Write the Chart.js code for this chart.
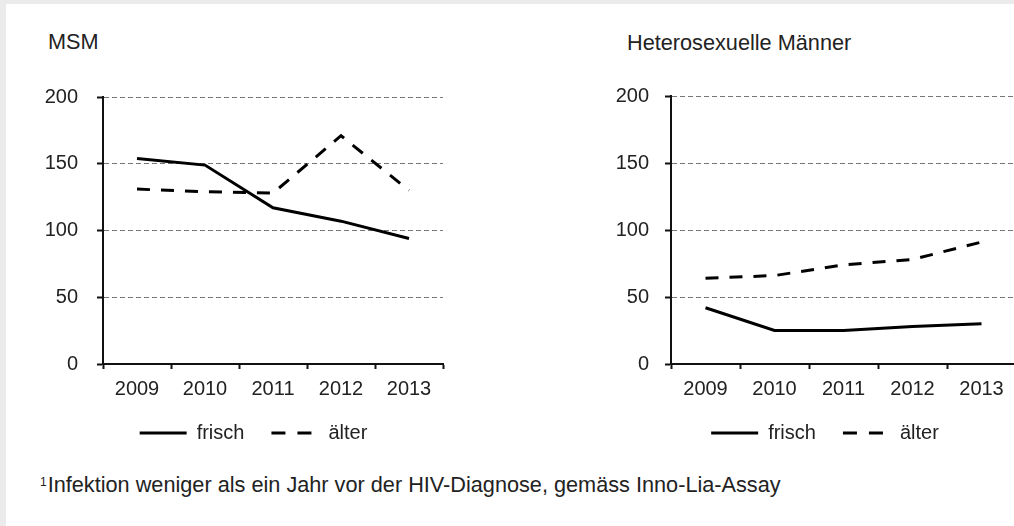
<!DOCTYPE html>
<html>
<head>
<meta charset="utf-8">
<script src="https://cdn.jsdelivr.net/npm/chart.js@4.4.1/dist/chart.umd.min.js"></script>
<style>
html,body{margin:0;padding:0;background:#fff;width:1014px;height:526px;overflow:hidden;font-family:"Liberation Sans",Arial,sans-serif;color:#222}
.strip-top{position:absolute;left:0;top:0;width:1014px;height:4px;background:#ebebeb}
.strip-left{position:absolute;left:0;top:0;width:6px;height:526px;background:#ebebeb}
.title{position:absolute;font-size:21.7px;line-height:21.7px;white-space:nowrap;color:#222}
.note{position:absolute;left:40px;top:474px;font-size:21.7px;line-height:21.7px;white-space:nowrap;color:#222}
.note sup{font-size:12px;position:relative;top:-6px;vertical-align:baseline;margin-right:1px}
#c1{position:absolute;left:0;top:0}
#c2{position:absolute;left:560px;top:0}
</style>
</head>
<body>
<div class="strip-top"></div>
<div class="strip-left"></div>
<div class="title" style="left:48px;top:31px">MSM</div>
<div class="title" style="left:627px;top:32px">Heterosexuelle Männer</div>
<canvas id="c1" width="465" height="460"></canvas>
<canvas id="c2" width="477" height="460"></canvas>
<div class="note"><sup>1</sup>Infektion weniger als ein Jahr vor der HIV-Diagnose, gemäss Inno-Lia-Assay</div>
<script>
// ---- data ----
const years = ['2009', '2010', '2011', '2012', '2013'];
const seriesLabels = ['frisch', 'älter'];
const msmFrisch = [154, 149, 117, 107, 94];
const msmAelter = [131, 129, 128, 171, 130];
const hetFrisch = [42, 25, 25, 28, 30];
const hetAelter = [64, 66, 74, 78, 91];
const yTicks = [0, 50, 100, 150, 200];

const FONT = '"Liberation Sans", Arial, sans-serif';
const TXT = '#222';
const AX = '#111';

function makeChart(id, frisch, aelter, pad, yLabelPad, yWidth, rightSpace) {
  const ctx = document.getElementById(id).getContext('2d');
  return new Chart(ctx, {
    type: 'line',
    data: {
      labels: years,
      datasets: [
        { label: seriesLabels[0], data: frisch, borderColor: '#000', backgroundColor: '#000',
          borderWidth: 3, tension: 0, pointRadius: 0, borderJoinStyle: 'miter', fill: false, yAxisID: 'y' },
        { label: seriesLabels[1], data: aelter, borderColor: '#000', backgroundColor: '#000',
          borderWidth: 3, borderDash: [13, 11], tension: 0, pointRadius: 0, borderJoinStyle: 'miter', fill: false, yAxisID: 'y' }
      ]
    },
    options: {
      responsive: false,
      devicePixelRatio: 1,
      animation: false,
      events: [],
      layout: { padding: pad },
      plugins: {
        tooltip: { enabled: false },
        title: { display: false },
        legend: {
          display: true,
          position: 'bottom',
          align: 'center',
          labels: {
            font: { size: 20, family: FONT },
            color: TXT,
            usePointStyle: true,
            pointStyleWidth: 47,
            boxHeight: 20,
            padding: 27,
            generateLabels: (chart) => chart.data.datasets.map((ds, i) => ({
              text: ds.label,
              fillStyle: '#000',
              strokeStyle: '#000',
              lineWidth: 3,
              lineDash: ds.borderDash ? [14, 12] : [],
              lineCap: 'butt',
              pointStyle: 'line',
              hidden: false,
              fontColor: TXT,
              datasetIndex: i
            }))
          }
        }
      },
      scales: {
        x: {
          offset: true,
          grid: { offset: true, drawOnChartArea: false, drawTicks: true, tickLength: 5, tickColor: AX, tickWidth: 2 },
          border: { display: true, color: AX, width: 2 },
          ticks: { font: { size: 20, family: FONT }, color: TXT, padding: 8, maxRotation: 0, autoSkip: false },
          afterFit: (s) => { s.height = 32; }
        },
        y: {
          position: 'left',
          min: 0,
          max: 200,
          afterBuildTicks: (s) => { s.ticks = yTicks.map(v => ({ value: v })); },
          grid: {
            color: (c) => (c.tick && c.tick.value === 0) ? 'rgba(0,0,0,0)' : '#777',
            lineWidth: 1,
            drawTicks: true,
            tickLength: 6,
            tickColor: AX,
            tickWidth: 2
          },
          border: { display: true, color: AX, width: 2, dash: [5, 3] },
          ticks: { font: { size: 20, family: FONT }, color: TXT, padding: yLabelPad },
          afterFit: (s) => { s.width = yWidth; }
        },
        y2: {
          position: 'right',
          display: true,
          min: 0,
          max: 200,
          grid: { display: false, drawTicks: false },
          border: { display: false },
          ticks: { display: false },
          afterFit: (s) => { s.width = rightSpace; }
        }
      }
    }
  });
}

makeChart('c1', msmFrisch, msmAelter, { left: 42, right: 0, top: 97, bottom: 7 }, 19, 61, 22);
makeChart('c2', hetFrisch, hetAelter, { left: 53, right: 0, top: 96, bottom: 7 }, 16, 58, 21);
</script>
</body>
</html>
